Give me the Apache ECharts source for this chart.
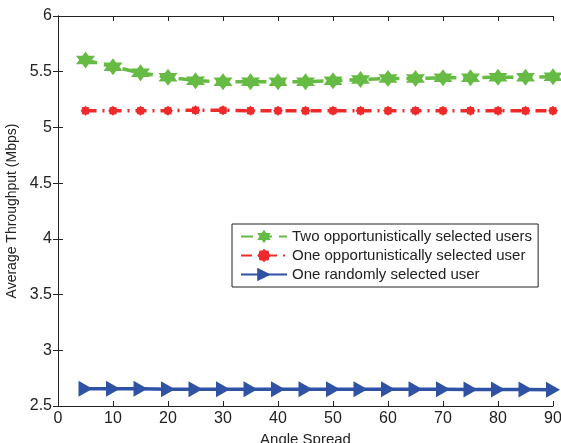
<!DOCTYPE html>
<html>
<head>
<meta charset="utf-8">
<script src="https://cdn.jsdelivr.net/npm/echarts@6/dist/echarts.min.js"></script>
<style>
  html, body { margin: 0; padding: 0; background: #fff; }
  #main { width: 561px; height: 443px; }
</style>
</head>
<body>
<div id="main"></div>
<script>
// angle spread (x) and throughput curves
var angles = [5, 10, 15, 20, 25, 30, 35, 40, 45, 50, 55, 60, 65, 70, 75, 80, 85, 90];
var twoOpp = [5.605, 5.545, 5.49, 5.45, 5.42, 5.41, 5.41, 5.41, 5.41, 5.42, 5.43, 5.44, 5.44, 5.445, 5.445, 5.45, 5.45, 5.455];
var oneOpp = [5.15, 5.15, 5.15, 5.15, 5.155, 5.155, 5.15, 5.15, 5.15, 5.15, 5.15, 5.15, 5.15, 5.15, 5.15, 5.15, 5.15, 5.15];
var oneRand = [2.655, 2.655, 2.655, 2.65, 2.65, 2.65, 2.65, 2.65, 2.65, 2.65, 2.65, 2.65, 2.65, 2.65, 2.648, 2.648, 2.648, 2.645];
var seriesNames = ['Two opportunistically selected users', 'One opportunistically selected user', 'One randomly selected user'];

function pairs(vals) {
    return angles.map(function (a, i) { return [a, vals[i]]; });
}

// six pointed star and a fat asterisk blob for the markers
var hexagram = 'path://M0,-10L2.887,-5L8.66,-5L5.774,0L8.66,5L2.887,5L0,10L-2.887,5L-8.66,5L-5.774,0L-8.66,-5L-2.887,-5Z';
var blob = 'path://M0,-10L2.5,-7.5L7,-7L7.5,-2.5L10,0L7.5,2.5L7,7L2.5,7.5L0,10L-2.5,7.5L-7,7L-7.5,2.5L-10,0L-7.5,-2.5L-7,-7L-2.5,-7.5Z';

var myChart = echarts.init(document.getElementById('main'));

var axisCommon = {
    axisLine: { show: true, lineStyle: { color: '#222', width: 1 } },
    axisTick: { show: true, inside: true, length: 5, lineStyle: { color: '#222' } },
    splitLine: { show: false }
};

var option = {
    backgroundColor: '#fff',
    animation: false,
    textStyle: { fontFamily: 'Liberation Sans, Arial, sans-serif' },
    grid: { left: 58, right: 8, top: 16, bottom: 37, outerBoundsMode: 'none' },
    legend: {
        orient: 'vertical',
        left: 232,
        top: 224,
        data: seriesNames,
        backgroundColor: '#fff',
        borderColor: '#222',
        borderWidth: 1,
        padding: [5, 6, 5, 8],
        itemGap: 4,
        itemWidth: 46,
        itemHeight: 17,
        textStyle: { fontSize: 15, color: '#222', fontFamily: 'Liberation Sans, Arial, sans-serif' }
    },
    xAxis: [
        Object.assign({
            type: 'value', min: 0, max: 90, interval: 10,
            name: 'Angle Spread', nameLocation: 'middle', nameGap: 25,
            nameTextStyle: { fontSize: 15, color: '#222' },
            axisLabel: { fontSize: 16, color: '#222', margin: 5 }
        }, axisCommon),
        Object.assign({
            type: 'value', min: 0, max: 90, interval: 10, position: 'top',
            axisLabel: { show: false }
        }, axisCommon)
    ],
    yAxis: [
        Object.assign({
            type: 'value', min: 2.5, max: 6, interval: 0.5,
            name: 'Average Throughput (Mbps)', nameLocation: 'middle', nameGap: 32,
            nameTextStyle: { fontSize: 14, color: '#222' },
            axisLabel: { fontSize: 16, color: '#222', margin: 6 }
        }, axisCommon),
        Object.assign({
            type: 'value', min: 2.5, max: 6, interval: 0.5, position: 'right',
            axisLabel: { show: false }
        }, axisCommon)
    ],
    series: [
        {
            name: seriesNames[0],
            type: 'line',
            data: pairs(twoOpp),
            symbol: hexagram,
            symbolSize: [19, 17],
            itemStyle: { color: '#66bb44' },
            lineStyle: { color: '#66bb44', width: 3.5, type: [12, 7] },
            z: 3
        },
        {
            name: seriesNames[1],
            type: 'line',
            data: pairs(oneOpp),
            symbol: blob,
            symbolSize: 10,
            itemStyle: { color: '#ee2a2a' },
            lineStyle: { color: '#ee2a2a', width: 3.5, type: [11, 6, 2, 6] },
            z: 2
        },
        {
            name: seriesNames[2],
            type: 'line',
            data: pairs(oneRand),
            symbol: 'triangle',
            symbolRotate: -90,
            symbolSize: [16, 14],
            itemStyle: { color: '#2f52a4' },
            lineStyle: { color: '#2f52a4', width: 3.5 },
            z: 1
        }
    ]
};

myChart.setOption(option);
</script>
</body>
</html>
